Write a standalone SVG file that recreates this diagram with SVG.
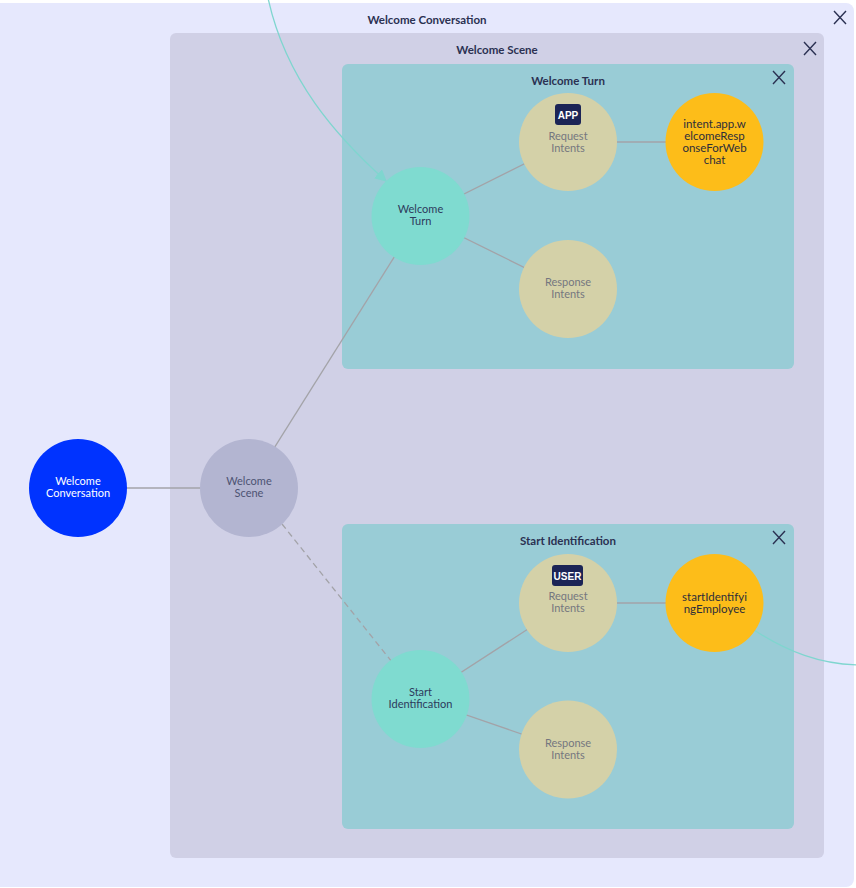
<svg xmlns="http://www.w3.org/2000/svg" width="856" height="888" viewBox="0 0 856 888">
  <style>
    .title { font-family: Lato, "Open Sans", sans-serif; font-size: 11.5px; font-weight: bold; fill: #2b3152; text-anchor: middle; }
    .lbl { font-family: Lato, "Open Sans", sans-serif; font-size: 11px; text-anchor: middle; }
    .big { font-size: 11.5px; }
    .close { stroke: #2b3152; stroke-width: 1.4; fill: none; }
    .edge { stroke: #a3a3a8; stroke-width: 1.3; fill: none; }
    .dash { stroke-dasharray: 6 4; }
    .flow { stroke: #7fd6cf; stroke-width: 1.3; fill: none; }
    .turnNode { fill: #7fdbd0; }
    .intentNode { fill: #d4d1a8; }
    .valueNode { fill: #fdbd19; }
    .badge { fill: #1b2456; }
    .badgeText { font-family: "Liberation Sans", Arial, sans-serif; font-size: 10px; font-weight: bold; fill: #ffffff; text-anchor: middle; }
  </style>
  <defs>
    <marker id="arrow" viewBox="0 0 10 10" refX="9" refY="5" markerWidth="12" markerHeight="12" orient="auto" markerUnits="userSpaceOnUse">
      <path d="M0,0 L10,5 L0,10 z" fill="#7fd6cf"/>
    </marker>
  </defs>

  <rect x="0" y="0" width="856" height="888" fill="#ffffff"/>

  <!-- containers -->
  <g id="container-conversation">
    <rect x="-8" y="3" width="862" height="884" rx="8" fill="#e6e8fd"/>
    <text class="title" x="427" y="24">Welcome Conversation</text>
    <path class="close" d="M834,11 L846,24 M846,11 L834,24"/>
  </g>
  <g id="container-scene">
    <rect x="170" y="33" width="654" height="825" rx="6" fill="#d0d0e6"/>
    <text class="title" x="497" y="54">Welcome Scene</text>
    <path class="close" d="M804,42 L816,55 M816,42 L804,55"/>
  </g>
  <g id="container-turn-welcome">
    <rect x="342" y="64" width="452" height="305" rx="6" fill="#99ccd6"/>
    <text class="title" x="568" y="85">Welcome Turn</text>
    <path class="close" d="M773,71 L785,84 M785,71 L773,84"/>
  </g>
  <g id="container-turn-start">
    <rect x="342" y="524" width="452" height="305" rx="6" fill="#99ccd6"/>
    <text class="title" x="568" y="545">Start Identification</text>
    <path class="close" d="M773,531 L785,544 M785,531 L773,544"/>
  </g>

  <!-- connectors -->
  <g id="connectors">
    <line class="edge" x1="78" y1="488" x2="249" y2="488"/>
    <line class="edge" x1="249" y1="488" x2="420" y2="216"/>
    <line class="edge dash" x1="282" y1="524" x2="392" y2="662"/>
    <line class="edge" x1="420" y1="216" x2="568" y2="142"/>
    <line class="edge" x1="420" y1="216" x2="568" y2="289"/>
    <line class="edge" x1="568" y1="142" x2="714" y2="142"/>
    <line class="edge" x1="420" y1="699" x2="568" y2="603"/>
    <line class="edge" x1="420" y1="699" x2="568" y2="750"/>
    <line class="edge" x1="568" y1="603" x2="714" y2="603"/>
    <path class="flow" d="M268,-2 C286,80 336,136 386,181" marker-end="url(#arrow)"/>
    <path class="flow" d="M754,630 C788,652 820,664 858,665"/>
  </g>

  <!-- nodes -->
  <g id="node-welcome-conversation">
    <circle cx="78" cy="488" r="49" fill="#0033ff"/>
    <text class="lbl" x="78" y="485" fill="#ffffff">Welcome</text>
    <text class="lbl" x="78" y="497" fill="#ffffff">Conversation</text>
  </g>
  <g id="node-welcome-scene">
    <circle cx="249" cy="488" r="49" fill="#b3b5d1"/>
    <text class="lbl" x="249" y="485" fill="#4d5373">Welcome</text>
    <text class="lbl" x="249" y="497" fill="#4d5373">Scene</text>
  </g>
  <g id="node-welcome-turn">
    <circle class="turnNode" cx="420.5" cy="216" r="49"/>
    <text class="lbl" x="420.5" y="213" fill="#2d3a5c">Welcome</text>
    <text class="lbl" x="420.5" y="225" fill="#2d3a5c">Turn</text>
  </g>
  <g id="node-request-intents-1">
    <circle class="intentNode" cx="568" cy="142" r="49"/>
    <rect class="badge" x="555" y="104" width="26" height="21" rx="3"/>
    <text class="badgeText" x="568" y="118.5">APP</text>
    <text class="lbl" x="568" y="140" fill="#74777f">Request</text>
    <text class="lbl" x="568" y="152" fill="#74777f">Intents</text>
  </g>
  <g id="node-intent-welcome">
    <circle class="valueNode" cx="714.5" cy="142" r="49"/>
    <text class="lbl big" x="714.5" y="127.5" fill="#2e2e3a">intent.app.w</text>
    <text class="lbl big" x="714.5" y="139.5" fill="#2e2e3a">elcomeResp</text>
    <text class="lbl big" x="714.5" y="151.5" fill="#2e2e3a">onseForWeb</text>
    <text class="lbl big" x="714.5" y="163.5" fill="#2e2e3a">chat</text>
  </g>
  <g id="node-response-intents-1">
    <circle class="intentNode" cx="568" cy="289" r="49"/>
    <text class="lbl" x="568" y="286" fill="#74777f">Response</text>
    <text class="lbl" x="568" y="298" fill="#74777f">Intents</text>
  </g>
  <g id="node-start-identification">
    <circle class="turnNode" cx="420.5" cy="699" r="49"/>
    <text class="lbl" x="420.5" y="696" fill="#2d3a5c">Start</text>
    <text class="lbl" x="420.5" y="708" fill="#2d3a5c">Identification</text>
  </g>
  <g id="node-request-intents-2">
    <circle class="intentNode" cx="568" cy="603" r="49"/>
    <rect class="badge" x="552" y="565" width="31" height="21" rx="3"/>
    <text class="badgeText" x="567.5" y="579.5">USER</text>
    <text class="lbl" x="568" y="600" fill="#74777f">Request</text>
    <text class="lbl" x="568" y="612" fill="#74777f">Intents</text>
  </g>
  <g id="node-intent-start">
    <circle class="valueNode" cx="714.5" cy="603" r="49"/>
    <text class="lbl big" x="714.5" y="601" fill="#2e2e3a">startIdentifyi</text>
    <text class="lbl big" x="714.5" y="613" fill="#2e2e3a">ngEmployee</text>
  </g>
  <g id="node-response-intents-2">
    <circle class="intentNode" cx="568" cy="749.5" r="49"/>
    <text class="lbl" x="568" y="747" fill="#74777f">Response</text>
    <text class="lbl" x="568" y="759" fill="#74777f">Intents</text>
  </g>
</svg>
